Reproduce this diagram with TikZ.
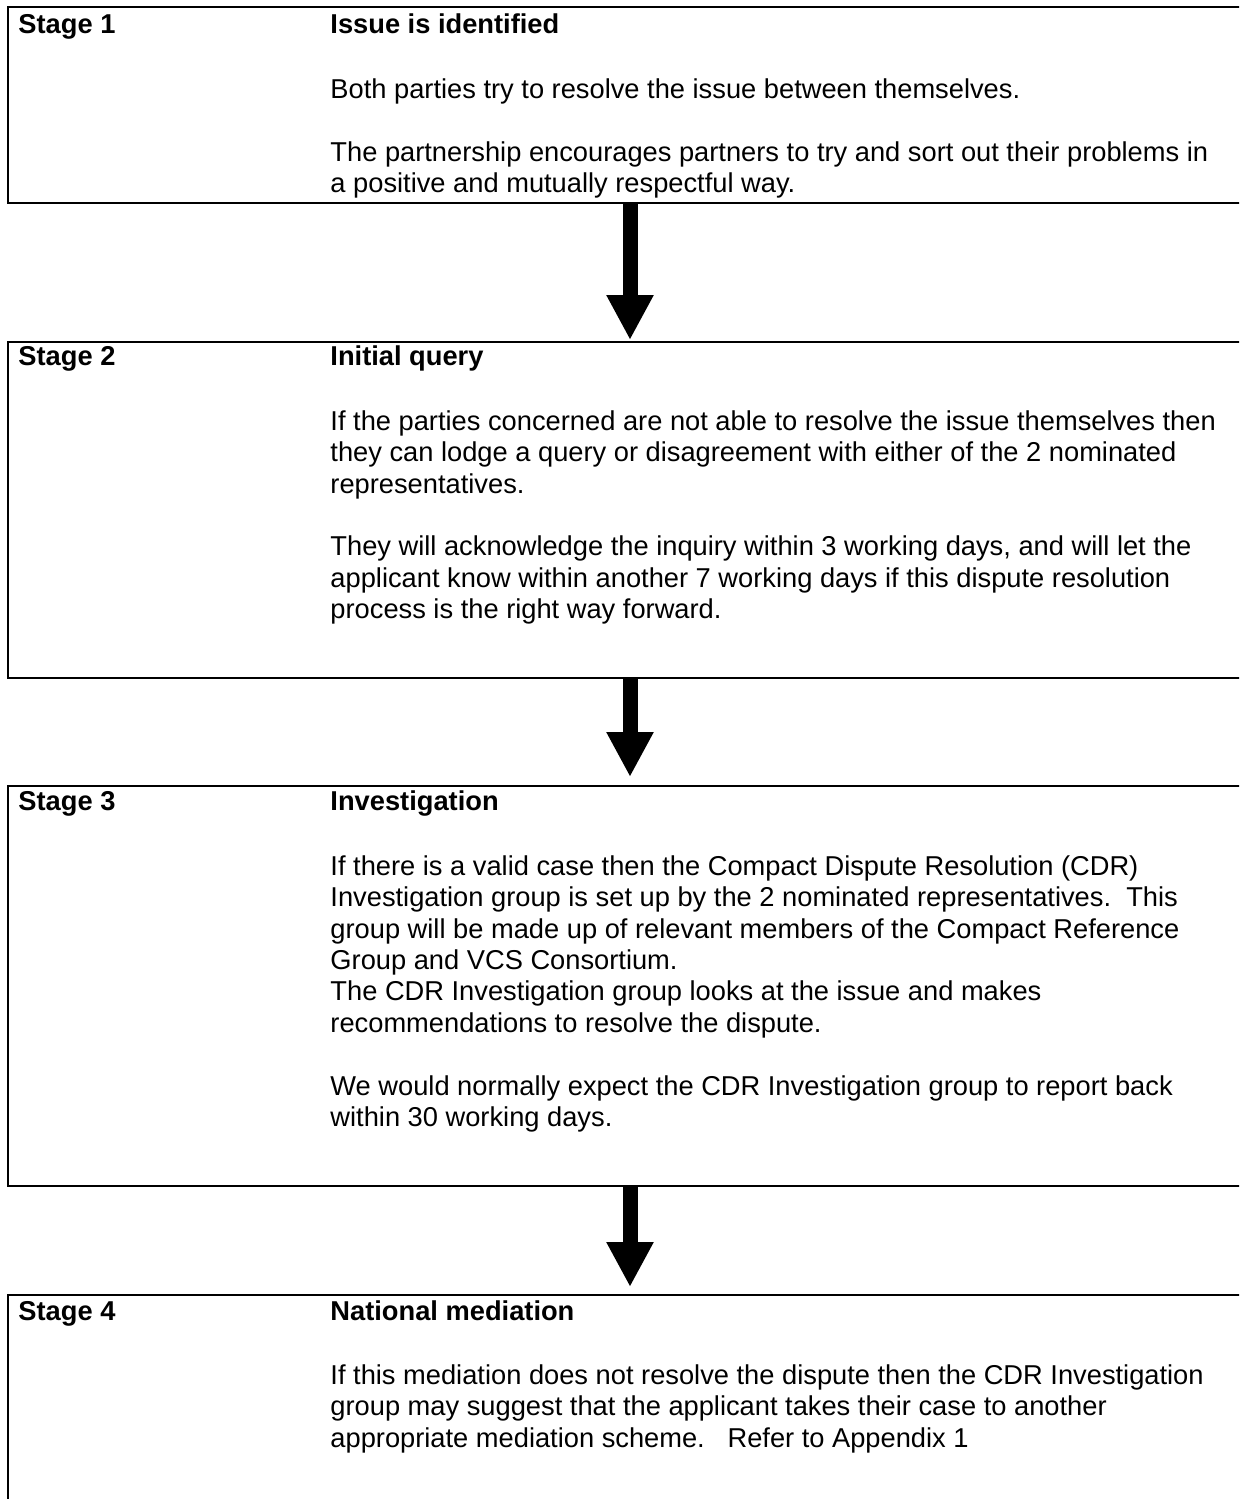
\documentclass[tikz,border=0pt]{standalone}
\usepackage{fontspec}
\setmainfont{Liberation Sans}
\usetikzlibrary{arrows.meta}
\newcommand{\topstrut}{\rule{0pt}{12pt}}
\begin{document}
\begin{tikzpicture}[x=0.44pt,y=-0.44pt,
  box/.style={draw, line width=1pt, rectangle, inner sep=0pt, anchor=north west, minimum width=550pt},
  stagelbl/.style={anchor=base west, inner sep=0pt, font=\fontsize{12}{13.8}\selectfont\bfseries},
  body/.style={anchor=north west, yshift=12pt, inner sep=0pt, align=left, font=\fontsize{12}{13.8}\selectfont},
  fat/.style={line width=6.6pt, -{Triangle[length=19.8pt,width=19.4pt]}}]
\useasboundingbox (0,0) rectangle (1239,1499);
\clip (0,0) rectangle (1239,1499);
\fill[white] (0,0) rectangle (1239,1499);

% boxes
\node[box, minimum height=86.24pt] (b1) at (7,6) {};
\node[box, minimum height=147.84pt] (b2) at (7,341) {};
\node[box, minimum height=176pt] (b3) at (7,785) {};
\node[box, minimum height=99.44pt] (b4) at (7,1294) {};

% box 1
\node[stagelbl] (s1) at (18,33) {Stage 1};
\node[stagelbl] (h1) at (330,33) {Issue is identified};
\node[body] (t1) at (330,98) {\topstrut Both parties try to resolve the issue between themselves.\\[13.8pt]
The partnership encourages partners to try and sort out their problems in\\
a positive and mutually respectful way.};

% box 2
\node[stagelbl] (s2) at (18,365) {Stage 2};
\node[stagelbl] (h2) at (330,365) {Initial query};
\node[body] (t2) at (330,430) {\topstrut If the parties concerned are not able to resolve the issue themselves then\\
they can lodge a query or disagreement with either of the 2 nominated\\
representatives.\\[13.8pt]
They will acknowledge the inquiry within 3 working days, and will let the\\
applicant know within another 7 working days if this dispute resolution\\
process is the right way forward.};

% box 3
\node[stagelbl] (s3) at (18,810) {Stage 3};
\node[stagelbl] (h3) at (330,810) {Investigation};
\node[body] (t3) at (330,875) {\topstrut If there is a valid case then the Compact Dispute Resolution (CDR)\\
Investigation group is set up by the 2 nominated representatives.~~This\\
group will be made up of relevant members of the Compact Reference\\
Group and VCS Consortium.\\
The CDR Investigation group looks at the issue and makes\\
recommendations to resolve the dispute.\\[13.8pt]
We would normally expect the CDR Investigation group to report back\\
within 30 working days.};

% box 4
\node[stagelbl] (s4) at (18,1320) {Stage 4};
\node[stagelbl] (h4) at (330,1320) {National mediation};
\node[body] (t4) at (330,1384) {\topstrut If this mediation does not resolve the dispute then the CDR Investigation\\
group may suggest that the applicant takes their case to another\\
appropriate mediation scheme.~~~Refer to Appendix 1};

% arrows
\coordinate (p1) at (630,340);
\coordinate (p2) at (630,777);
\coordinate (p3) at (630,1287);
\draw[fat] (b1.south -| p1) -- (p1);
\draw[fat] (b2.south -| p2) -- (p2);
\draw[fat] (b3.south -| p3) -- (p3);
\end{tikzpicture}
\end{document}
